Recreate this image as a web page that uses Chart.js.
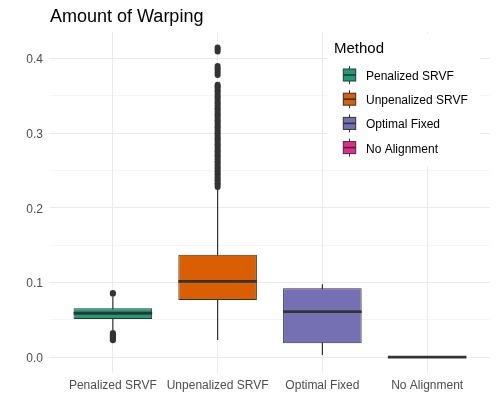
<!DOCTYPE html>
<html><head><meta charset="utf-8">
<script src="https://cdn.jsdelivr.net/npm/chart.js@4.4.1/dist/chart.umd.min.js"></script>
<style>html,body{margin:0;padding:0;background:#fff;}#wrap{width:498px;height:399px;}</style>
</head><body><div id="wrap"><canvas id="c" width="498" height="399"></canvas></div>
<script>
// ---- data ----
const categories = ['Penalized SRVF', 'Unpenalized SRVF', 'Optimal Fixed', 'No Alignment'];
const boxColors = ['#1B9E77', '#D95F02', '#7570B3', '#E7298A'];
const q1 = [0.0510, 0.0765, 0.0184, 0];
const median = [0.0587, 0.1015, 0.0608, 0];
const q3 = [0.0654, 0.1370, 0.0922, 0];
const whiskerLow = [0.0360, 0.0228, 0.0027, 0];
const whiskerHigh = [0.0810, 0.2260, 0.0976, 0];
const outliersPenalized = [0.0850, 0.0860, 0.0322, 0.0310, 0.0298, 0.0285, 0.0272, 0.0260, 0.0248, 0.0236, 0.0224];
const outliersUnpenalized = [
  0.228, 0.231, 0.233, 0.236, 0.238, 0.241, 0.244, 0.246, 0.249, 0.252, 0.254, 0.257, 0.260, 0.262,
  0.265, 0.268, 0.270, 0.273, 0.276, 0.278, 0.281, 0.284, 0.286, 0.289, 0.292, 0.294, 0.297, 0.300,
  0.302, 0.305, 0.308, 0.310, 0.313, 0.316, 0.318, 0.321, 0.324, 0.326, 0.329, 0.332, 0.334, 0.337,
  0.340, 0.342, 0.345, 0.348, 0.350, 0.353, 0.356, 0.358, 0.361, 0.363, 0.365,
  0.378, 0.381, 0.384, 0.387, 0.390,
  0.4095, 0.4125, 0.4150];
const outliersOptimal = [];
const outliersNone = [];
const yTickValues = [0, 0.05, 0.1, 0.15, 0.2, 0.25, 0.3, 0.35, 0.4];
const yTickLabels = ['0.0', '', '0.1', '', '0.2', '', '0.3', '', '0.4'];
const yMin = -0.0207, yMax = 0.4357;
const legendTitle = 'Method';
const chartTitle = 'Amount of Warping';

// ---- build ----
const outlierGroups = [outliersPenalized, outliersUnpenalized, outliersOptimal, outliersNone];
const boxData = categories.map((c, i) => ({x: i + 1, y: [q1[i], q3[i]]}));
const whiskerData = [];
categories.forEach((c, i) => {
  whiskerData.push({x: i + 1, y: whiskerLow[i]}, {x: i + 1, y: whiskerHigh[i]}, {x: i + 1, y: null});
});
const outlierData = [];
outlierGroups.forEach((g, i) => g.forEach(v => outlierData.push({x: i + 1, y: v})));

const FONT = "'Liberation Sans', Arial, Helvetica, sans-serif";
Chart.defaults.font.family = FONT;
const INK = '#333333';

const medianPlugin = {
  id: 'medians',
  afterDatasetsDraw(chart) {
    const meta = chart.getDatasetMeta(0);
    const ys = chart.scales.y;
    const ctx = chart.ctx;
    ctx.save();
    ctx.strokeStyle = INK;
    ctx.lineWidth = 2.8;
    ctx.lineCap = 'butt';
    meta.data.forEach((el, i) => {
      const p = el.getProps(['x', 'width'], true);
      const y = ys.getPixelForValue(median[i]);
      ctx.beginPath();
      ctx.moveTo(p.x - p.width / 2, y);
      ctx.lineTo(p.x + p.width / 2, y);
      ctx.stroke();
    });
    ctx.restore();
  }
};

const legendPlugin = {
  id: 'boxLegend',
  afterDraw(chart) {
    const ctx = chart.ctx;
    ctx.save();
    ctx.fillStyle = '#ffffff';
    ctx.fillRect(327, 34, 153, 132);
    ctx.fillStyle = '#000000';
    ctx.font = '15px ' + FONT;
    ctx.textBaseline = 'alphabetic';
    ctx.textAlign = 'left';
    ctx.fillText(legendTitle, 334, 53.3);
    ctx.font = '12px ' + FONT;
    categories.forEach((c, i) => {
      const cy = 75 + i * 24.2;
      const cx = 349.5;
      ctx.strokeStyle = INK;
      ctx.lineWidth = 1;
      ctx.beginPath();
      ctx.moveTo(cx, cy - 9);
      ctx.lineTo(cx, cy + 9);
      ctx.stroke();
      ctx.fillStyle = boxColors[i];
      ctx.fillRect(343.3, cy - 6, 12.4, 12);
      ctx.strokeRect(343.3, cy - 6, 12.4, 12);
      ctx.lineWidth = 1.6;
      ctx.beginPath();
      ctx.moveTo(343.3, cy);
      ctx.lineTo(355.7, cy);
      ctx.stroke();
      ctx.fillStyle = '#000000';
      ctx.textBaseline = 'alphabetic';
      ctx.fillText(c, 366, cy + 5);
    });
    ctx.restore();
  }
};

new Chart(document.getElementById('c'), {
  type: 'bar',
  data: {
    datasets: [
      {type: 'bar', label: 'box', data: boxData, backgroundColor: boxColors, borderColor: INK,
       borderWidth: 1, borderSkipped: false, barPercentage: 0.75, categoryPercentage: 1, grouped: false, order: 1},
      {type: 'line', label: 'whisker', data: whiskerData, borderColor: INK, borderWidth: 1.2,
       pointRadius: 0, spanGaps: false, fill: false, order: 2},
      {type: 'scatter', label: 'outliers', data: outlierData, pointRadius: 3, backgroundColor: INK,
       borderWidth: 0, order: 3}
    ]
  },
  options: {
    responsive: false,
    devicePixelRatio: 1,
    animation: false,
    events: [],
    layout: {padding: {left: 0, right: 8, top: 0, bottom: 0}},
    scales: {
      x: {
        type: 'linear', min: 0.4, max: 4.6, offset: false,
        afterBuildTicks: s => { s.ticks = categories.map((c, i) => ({value: i + 1})); },
        afterFit: s => { s.height = 26.5; },
        grid: {offset: false, color: '#EBEBEB', lineWidth: 1, drawTicks: false},
        border: {display: false},
        ticks: {callback: v => categories[Math.round(v) - 1] ?? '', color: '#4D4D4D',
                font: {size: 12}, padding: 5.5, maxRotation: 0, minRotation: 0, autoSkip: false}
      },
      y: {
        type: 'linear', min: yMin, max: yMax,
        afterBuildTicks: s => { s.ticks = yTickValues.map(v => ({value: v})); },
        afterFit: s => { s.width = 50; },
        grid: {color: '#EBEBEB', lineWidth: ctx => (yTickLabels[ctx.index] ? 1 : 0.5), drawTicks: false},
        border: {display: false},
        ticks: {callback: (v, i) => yTickLabels[i], color: '#4D4D4D', font: {size: 12}, padding: 7,
                autoSkip: false, labelOffset: 1.5}
      }
    },
    plugins: {
      legend: {display: false},
      tooltip: {enabled: false},
      title: {display: true, text: chartTitle, align: 'start', fullSize: false, color: '#000000',
              font: {size: 18, weight: 'normal'}, padding: {top: 6.2, bottom: 4.2}}
    }
  },
  plugins: [medianPlugin, legendPlugin]
});
</script></body></html>
